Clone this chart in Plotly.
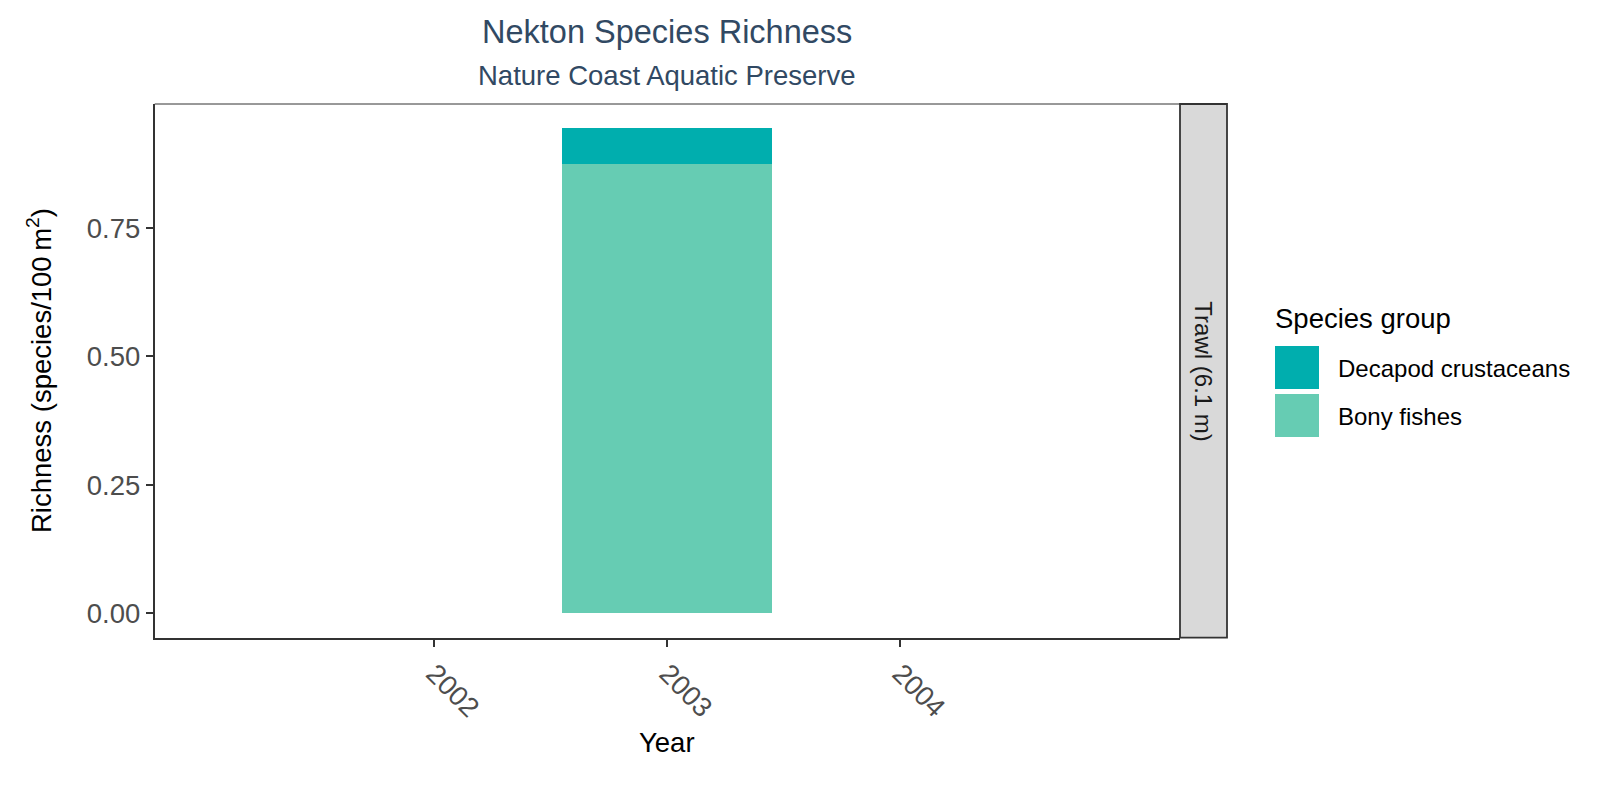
import plotly.graph_objects as go

# data
years = [2003]
groups = ["Decapod crustaceans", "Bony fishes"]
group_colors = {"Decapod crustaceans": "#00AEAE", "Bony fishes": "#66CCB3"}
richness = {
    "Bony fishes": [0.875],
    "Decapod crustaceans": [0.069],
}
x_ticks = [2002, 2003, 2004]
y_ticks = [0.0, 0.25, 0.5, 0.75]
facet_label = "Trawl (6.1 m)"

W, H = 1600, 800
FONT = "Liberation Sans, Arial, sans-serif"
TITLE_COL = "#314963"
AX_COL = "#333333"

def px_x(p):
    return p / W

def px_y(p):
    return 1 - p / H

fig = go.Figure()

# stacked bars, bottom group first
for g in ["Bony fishes", "Decapod crustaceans"]:
    fig.add_trace(go.Bar(x=years, y=richness[g], name=g, width=0.9,
                         marker=dict(color=group_colors[g], line=dict(width=0)),
                         showlegend=False))

fig.update_layout(
    width=W, height=H,
    barmode="stack",
    paper_bgcolor="white", plot_bgcolor="white",
    margin=dict(l=0, r=0, t=0, b=0),
    font=dict(family=FONT, color="black"),
    xaxis=dict(domain=[px_x(154.7), px_x(1180)], range=[2000.8, 2005.2],
               tickvals=x_ticks, ticktext=[str(t) for t in x_ticks],
               tickangle=45, ticks="outside", ticklen=7, tickwidth=1.8, tickcolor=AX_COL,
               showline=True, linecolor=AX_COL, linewidth=1.8, showgrid=False,
               zeroline=False, automargin=False,
               tickfont=dict(size=27.5, color="#4D4D4D", family=FONT)),
    yaxis=dict(domain=[px_y(637.7), px_y(104)], range=[-0.0472, 0.991],
               tickvals=y_ticks, ticktext=["%.2f" % t for t in y_ticks],
               ticks="outside", ticklen=7, tickwidth=1.8, tickcolor=AX_COL,
               showline=True, linecolor=AX_COL, linewidth=1.8, showgrid=False,
               zeroline=False, automargin=False,
               tickfont=dict(size=27.5, color="#4D4D4D", family=FONT)),
)

# thin top border of panel
fig.add_shape(type="line", xref="x domain", yref="y domain", x0=0, x1=1, y0=1, y1=1,
              line=dict(color=AX_COL, width=1))
# facet strip on the right
fig.add_shape(type="rect", xref="paper", yref="y domain",
              x0=px_x(1180), x1=px_x(1227), y0=0, y1=1,
              fillcolor="#D9D9D9", line=dict(color=AX_COL, width=1.8))
fig.add_annotation(text=facet_label, xref="paper", yref="y domain",
                   x=px_x(1203.5), y=0.5, xanchor="center", yanchor="middle",
                   showarrow=False, textangle=90,
                   font=dict(size=24, color="#1A1A1A"))

def label(text, x, y, size, color="black", angle=0, xanchor="center"):
    fig.add_annotation(text=text, xref="paper", yref="paper", x=px_x(x), y=px_y(y),
                       xanchor=xanchor, yanchor="middle", showarrow=False,
                       textangle=angle, font=dict(size=size, color=color))

# titles
label("Nekton Species Richness", 667, 32, 32.5, TITLE_COL)
label("Nature Coast Aquatic Preserve", 667, 76, 27.5, TITLE_COL)
label("Year", 667, 742, 27.5)
label("Richness (species/100\u2009m<sup>2</sup>)", 39, 371, 27.5, angle=-90)

# legend drawn by hand so the keys get the big square size
label("Species group", 1273, 319, 27.5, xanchor="left")
key_top = 346
for i, g in enumerate(groups):
    y0 = key_top + i * 48
    fig.add_shape(type="rect", xref="paper", yref="paper",
                  x0=px_x(1275), x1=px_x(1319), y0=px_y(y0 + 43), y1=px_y(y0),
                  fillcolor=group_colors[g], line=dict(width=0))
    label(g, 1336, y0 + 22, 24, xanchor="left")

fig.write_html("out.html", config={"displayModeBar": False},
               post_script="document.body.style.margin='0';")
